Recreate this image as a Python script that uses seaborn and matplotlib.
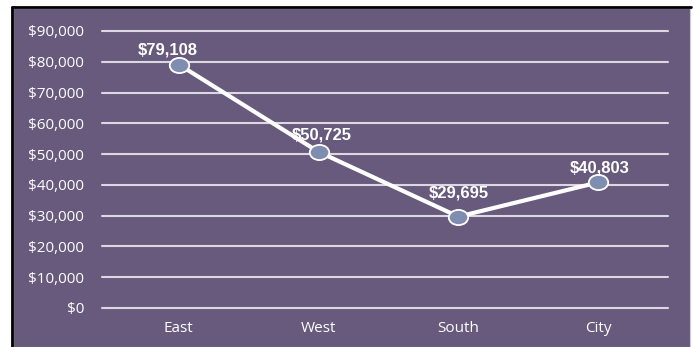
import matplotlib
matplotlib.use("Agg")
import matplotlib.pyplot as plt
from matplotlib.patches import Rectangle
from matplotlib.lines import Line2D
from matplotlib.path import Path
from matplotlib.transforms import Affine2D
from matplotlib.ticker import FuncFormatter
import seaborn as sns
import pandas as pd

regions = ["East", "West", "South", "City"]
sales = [79108, 50725, 29695, 40803]
y_ticks = [0, 10000, 20000, 30000, 40000, 50000, 60000, 70000, 80000, 90000]

BG = "#675a7c"
GRID = "#dcd8e3"
MARKER = "#7f8db0"

sns.set_theme(style="white")
plt.rcParams["font.family"] = ["Open Sans", "DejaVu Sans"]

W, H = 693, 347
fig = plt.figure(figsize=(W / 100, H / 100), dpi=100)
fig.patch.set_facecolor("white")

# Purple panel with a dark edge along the top and left
fig.patches.append(Rectangle((13 / W, 0), (690 - 13) / W, (H - 8) / H,
                             transform=fig.transFigure, facecolor=BG,
                             edgecolor="#cfcad8", linewidth=0.8, zorder=-10))
fig.lines.append(Line2D([12 / W, 691 / W], [1 - 7 / H, 1 - 7 / H],
                        transform=fig.transFigure, color="black", linewidth=2, zorder=-5))
fig.lines.append(Line2D([12 / W, 12 / W], [0, 1 - 7 / H],
                        transform=fig.transFigure, color="black", linewidth=2, zorder=-5))

ax = fig.add_axes([102 / W, 1 - 308 / H, (668 - 102) / W, (308 - 31) / H])
ax.set_facecolor("none")
ax.set_zorder(1)

df = pd.DataFrame({"region": regions, "sales": sales})
df["pos"] = range(len(regions))

# slightly flattened ellipse marker
ellipse = Path.unit_circle().transformed(Affine2D().scale(1.0, 0.78))

sns.lineplot(data=df, x="pos", y="sales", ax=ax, color="white", linewidth=3,
             marker=ellipse, markersize=14, markerfacecolor=MARKER,
             markeredgecolor="white", markeredgewidth=1.3, zorder=5, clip_on=False)

# label nudges (points) so text clears the line
label_dx = [-8, 2, 0, 1]
label_dy = [7, 9, 14, 7.5]
for x, v, dx, dy in zip(df["pos"], df["sales"], label_dx, label_dy):
    ax.annotate(f"${v:,.0f}", (x, v), xytext=(dx, dy), textcoords="offset points",
                ha="center", va="baseline", color="white", fontsize=12,
                fontweight="bold", family=["Liberation Sans", "DejaVu Sans"], zorder=6)

ax.set_xlim(-0.55, len(regions) - 0.5)
ax.set_ylim(0, 90000)
ax.set_yticks(y_ticks)
ax.yaxis.set_major_formatter(FuncFormatter(lambda v, _: f"${v:,.0f}"))
ax.set_xticks(df["pos"])
ax.set_xticklabels(regions)
ax.grid(axis="y", color=GRID, linewidth=1.5)
ax.set_axisbelow(True)
for s in ax.spines.values():
    s.set_visible(False)
ax.tick_params(axis="both", length=0, colors="white", labelsize=11)
ax.tick_params(axis="y", pad=13)
ax.tick_params(axis="x", pad=9)
ax.set_xlabel("")
ax.set_ylabel("")
for gl in ax.get_ygridlines():
    gl.set_clip_on(False)

fig.savefig("out.png", dpi=100, facecolor=fig.get_facecolor())
